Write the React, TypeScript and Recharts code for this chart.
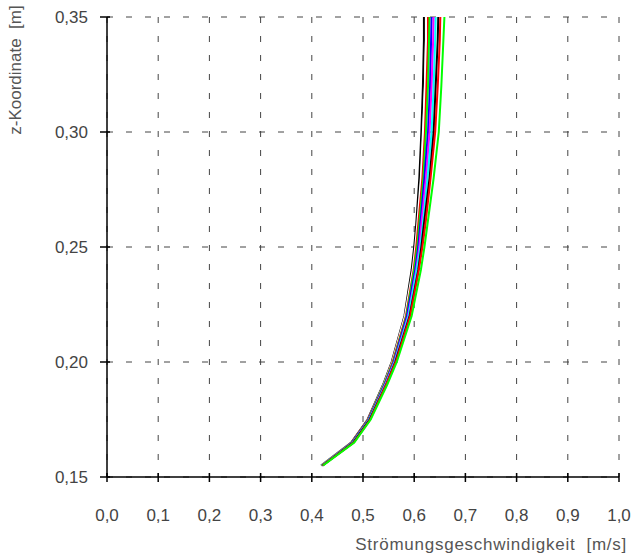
import React from "react";
import { ScatterChart, Scatter, XAxis, YAxis, CartesianGrid } from "recharts";

const zValues = [0.155, 0.165, 0.175, 0.19, 0.2, 0.22, 0.24, 0.25, 0.26, 0.28, 0.3, 0.32, 0.34, 0.35];

const profileBlack1 = [0.418, 0.477, 0.509, 0.539, 0.556, 0.581, 0.595, 0.600, 0.604, 0.610, 0.614, 0.617, 0.619, 0.619];
const profileWhite = [0.418, 0.478, 0.510, 0.540, 0.557, 0.582, 0.597, 0.602, 0.606, 0.613, 0.617, 0.621, 0.623, 0.623];
const profileRed1 = [0.419, 0.478, 0.510, 0.541, 0.558, 0.584, 0.599, 0.604, 0.608, 0.616, 0.621, 0.624, 0.627, 0.627];
const profileGreen1 = [0.419, 0.479, 0.511, 0.541, 0.559, 0.585, 0.600, 0.606, 0.610, 0.618, 0.623, 0.627, 0.629, 0.630];
const profileBlue = [0.420, 0.479, 0.511, 0.542, 0.560, 0.586, 0.602, 0.608, 0.612, 0.620, 0.627, 0.631, 0.633, 0.634];
const profileMagenta = [0.420, 0.480, 0.512, 0.543, 0.561, 0.588, 0.604, 0.610, 0.614, 0.623, 0.630, 0.634, 0.637, 0.638];
const profileCyan = [0.420, 0.480, 0.512, 0.544, 0.562, 0.589, 0.605, 0.612, 0.617, 0.626, 0.634, 0.638, 0.641, 0.642];
const profileBlack2 = [0.421, 0.481, 0.513, 0.545, 0.563, 0.591, 0.608, 0.614, 0.619, 0.630, 0.638, 0.642, 0.646, 0.647];
const profileRed2 = [0.421, 0.482, 0.514, 0.545, 0.564, 0.592, 0.609, 0.616, 0.622, 0.632, 0.641, 0.646, 0.650, 0.651];
const profileGreen2 = [0.422, 0.483, 0.515, 0.547, 0.566, 0.595, 0.613, 0.620, 0.626, 0.638, 0.648, 0.653, 0.657, 0.659];

const seriesList = [
  { name: "p1", values: profileBlack1, color: "#000000" },
  { name: "p2", values: profileWhite, color: "#ffffff" },
  { name: "p3", values: profileRed1, color: "#ff0000" },
  { name: "p4", values: profileGreen1, color: "#00ff00" },
  { name: "p5", values: profileBlue, color: "#0000ff" },
  { name: "p6", values: profileMagenta, color: "#ff00ff" },
  { name: "p7", values: profileCyan, color: "#00ffff" },
  { name: "p8", values: profileBlack2, color: "#000000" },
  { name: "p9", values: profileRed2, color: "#ff0000" },
  { name: "p10", values: profileGreen2, color: "#00ff00" },
];

const xTicks = [0, 0.1, 0.2, 0.3, 0.4, 0.5, 0.6, 0.7, 0.8, 0.9, 1.0];
const yTicks = [0.15, 0.2, 0.25, 0.3, 0.35];

const xTitle = "Strömungsgeschwindigkeit  [m/s]";
const yTitle = "z-Koordinate  [m]";

const FONT = '"Liberation Sans", Arial, sans-serif';
const TICK_COLOR = "#444444";
const TITLE_COLOR = "#555555";

const XTick = (props: any) => {
  const { x, y, payload } = props;
  return (
    <g>
      <line x1={x} x2={x} y1={y - 4} y2={y + 5} stroke="#000" strokeWidth={1.5} />
      <text x={x} y={y + 44} textAnchor="middle" fill={TICK_COLOR} fontSize={17} fontFamily={FONT}>
        {Number(payload.value).toFixed(1).replace(".", ",")}
      </text>
    </g>
  );
};

const YTick = (props: any) => {
  const { x, y, payload } = props;
  return (
    <g>
      <line x1={x - 7} x2={x + 3} y1={y} y2={y} stroke="#000" strokeWidth={1.5} />
      <text x={x - 19} y={y + 6} textAnchor="end" fill={TICK_COLOR} fontSize={17} fontFamily={FONT}>
        {Number(payload.value).toFixed(2).replace(".", ",")}
      </text>
    </g>
  );
};

const noShape = () => <g />;

export default function App() {
  return (
    <div style={{ position: "absolute", left: 0, top: 0, width: 633, height: 556, background: "#fff" }}>
      <ScatterChart width={633} height={556} margin={{ top: 17, right: 14, bottom: 0, left: 0 }}>
        <CartesianGrid stroke="#444" strokeDasharray="6 13" />
        <XAxis
          type="number"
          dataKey="x"
          domain={[0, 1]}
          ticks={xTicks}
          height={79}
          tickSize={0}
          tickMargin={0}
          tickLine={false}
          tick={XTick}
          axisLine={{ stroke: "#000", strokeWidth: 1.5 }}
          allowDataOverflow
        />
        <YAxis
          type="number"
          dataKey="y"
          domain={[0.15, 0.35]}
          ticks={yTicks}
          width={107}
          tickSize={0}
          tickMargin={0}
          tickLine={false}
          tick={YTick}
          axisLine={{ stroke: "#000", strokeWidth: 1.5 }}
          allowDataOverflow
        />
        {seriesList.map((s) => (
          <Scatter
            key={s.name}
            name={s.name}
            data={zValues.map((z, i) => ({ x: s.values[i], y: z }))}
            line={{ stroke: s.color, strokeWidth: 2 }}
            lineType="joint"
            shape={noShape}
            fill={s.color}
            isAnimationActive={false}
          />
        ))}
      </ScatterChart>
      <div
        style={{
          position: "absolute",
          left: 16 - 100,
          top: 70 - 10,
          width: 200,
          height: 20,
          lineHeight: "20px",
          textAlign: "center",
          transform: "rotate(-90deg)",
          fontFamily: FONT,
          fontSize: 17,
          color: TITLE_COLOR,
          whiteSpace: "pre",
        }}
      >
        {yTitle}
      </div>
      <div
        style={{
          position: "absolute",
          right: 6,
          top: 535,
          height: 20,
          lineHeight: "20px",
          textAlign: "right",
          fontFamily: FONT,
          fontSize: 17,
          letterSpacing: 0.75,
          color: TITLE_COLOR,
          whiteSpace: "pre",
        }}
      >
        {xTitle}
      </div>
    </div>
  );
}
